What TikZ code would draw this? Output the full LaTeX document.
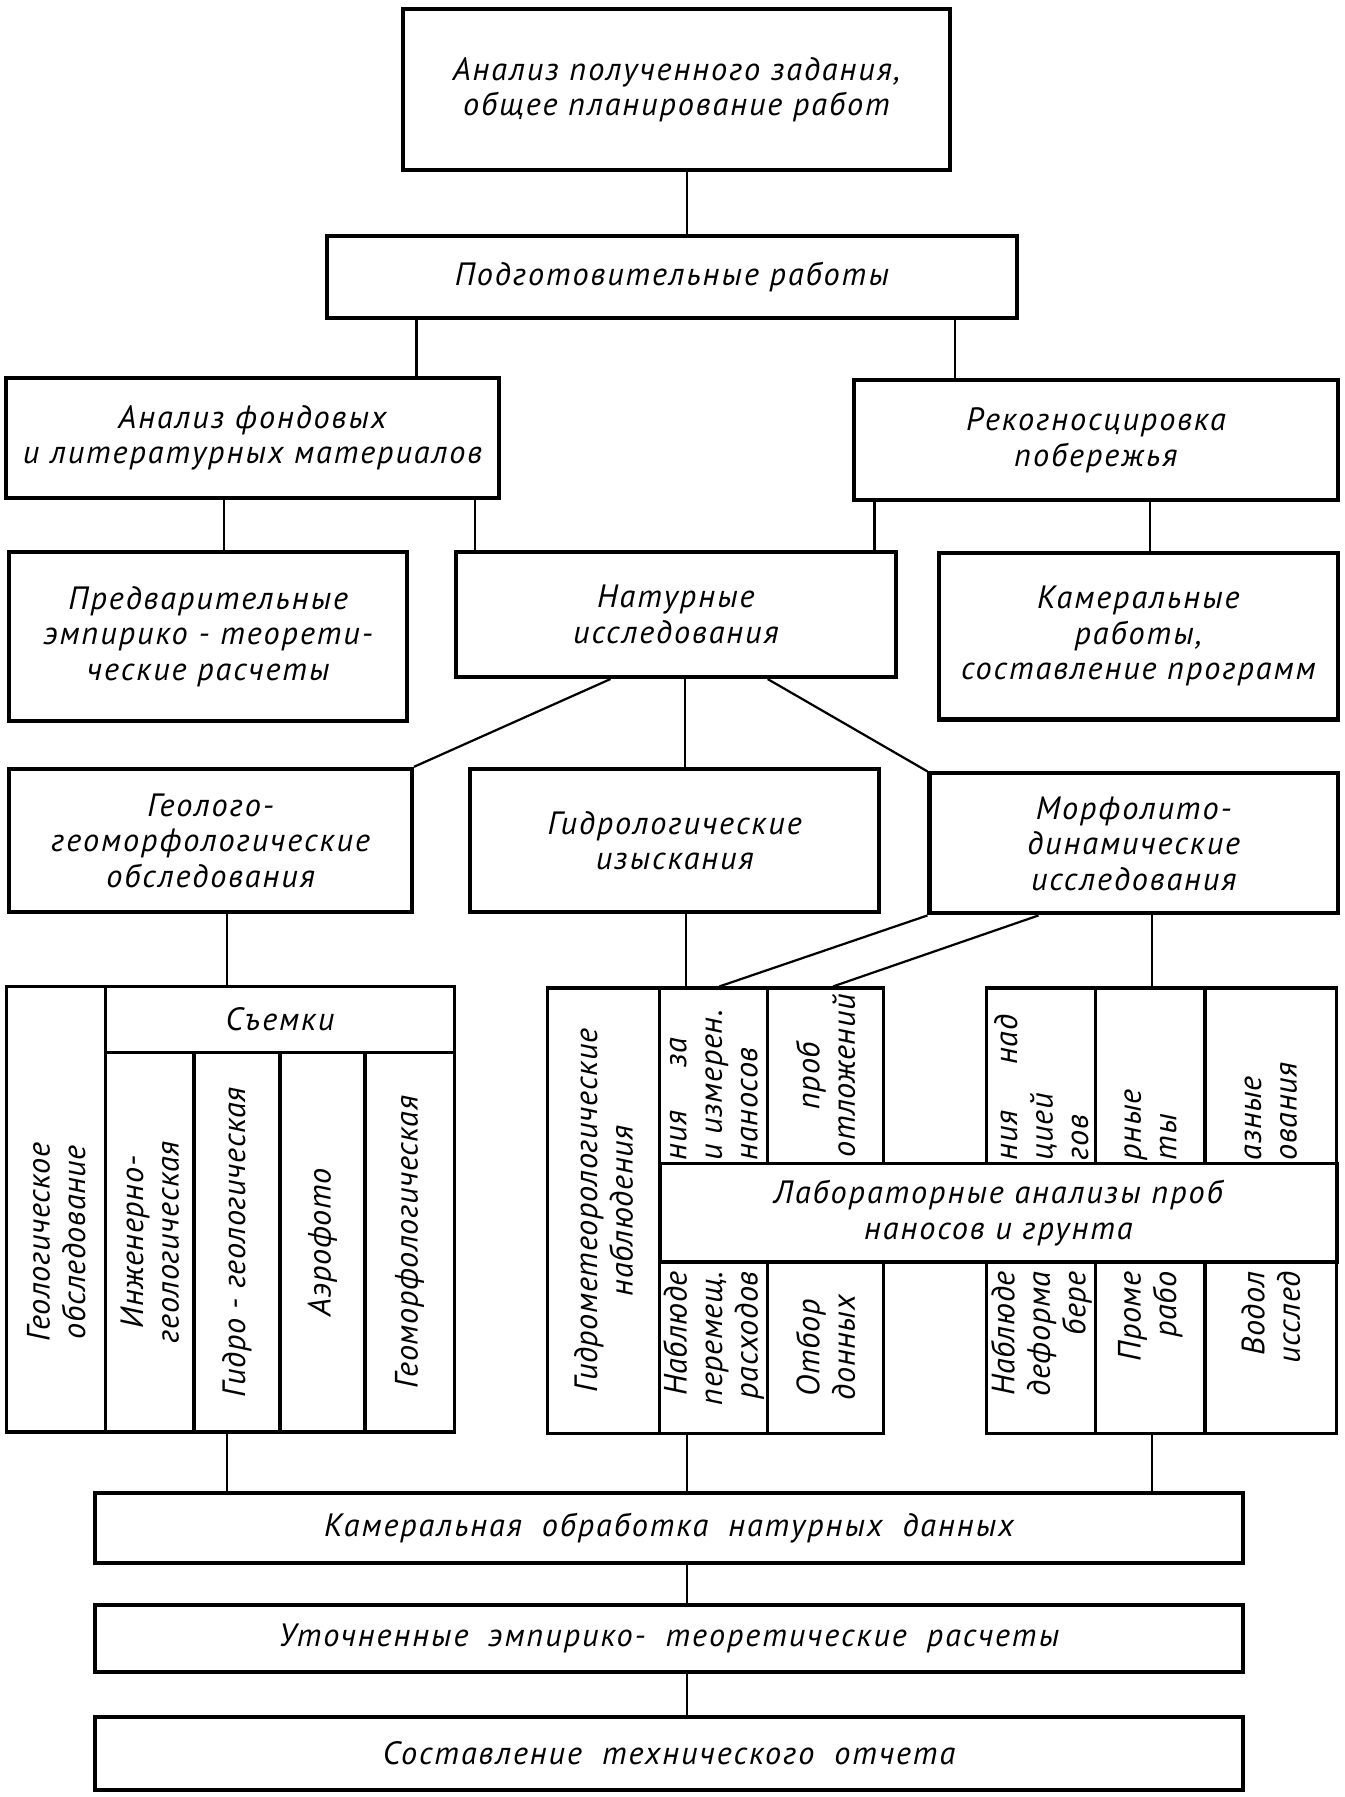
\documentclass[tikz,border=0pt]{standalone}
\usepackage{fontspec}
\setmainfont{PT Sans}[LetterSpace=6]
\usetikzlibrary{calc}
\newcommand{\wsp}{\hspace{0.62em}}
\begin{document}
\begin{tikzpicture}[x=0.02cm, y=-0.02cm,
    every node/.style={inner sep=0pt},
    lbl/.style={font=\itshape\fontsize{16}{17.6}\selectfont, align=center},
    stage/.style 2 args={draw, line width=2pt, lbl, text width=#1*0.02cm, minimum height=#2*0.02cm},
    cellbox/.style 2 args={draw, line width=1.6pt, minimum width=#1*0.02cm, minimum height=#2*0.02cm},
    vlbl/.style={lbl, rotate=90, font=\itshape\fontsize{16}{17.6}\selectfont\addfontfeatures{LetterSpace=2}},
    link/.style={line width=1.1pt}]
\useasboundingbox (0,0) rectangle (1172,1566);

% upper stages
\node[stage={477}{140}] (task) at (589.5,78) {Анализ полученного задания,\\ общее планирование работ};
\node[stage={601}{71}] (prep) at (585.5,241.5) {Подготовительные работы};
\node[stage={430}{105}] (fond) at (220,381.5) {Анализ фондовых\\ и литературных материалов};
\node[stage={422}{105}] (recon) at (955,383.5) {Рекогносцировка\\ побережья};
\node[stage={347}{147}] (prelim) at (181.5,554.5) {Предварительные\\ эмпирико - теорети-\\ ческие расчеты};
\node[stage={384}{109}] (field) at (589,535.5) {Натурные\\ исследования};
\node[stage={348}{145}] (office) at (992,554.5) {Камеральные\\ работы,\\ составление программ};
\node[stage={351}{125}] (geol) at (183.5,732.5) {Геолого-\\ геоморфологические\\ обследования};
\node[stage={356}{125}] (hydro) at (588,732.5) {Гидрологические\\ изыскания};
\node[stage={356}{122}] (morph) at (988,735) {Морфолито-\\ динамические\\ исследования};

% geological block
\node[cellbox={86}{388}] (geo) at (49,1054) {};
\node[stage={304}{57}, line width=1.6pt] (shot) at (244,888.5) {Съемки};
\foreach \n/\cx/\w in {s1/130.5/77, s2/206.5/75, s3/281/74, s4/357/78}
    \node[cellbox={\w}{331}] (\n) at (\cx,1082.5) {};
\node[vlbl] at (geo |- s1) {Геологическое\\ обследование};
\node[vlbl] at (s1) {Инженерно-\\ геологическая};
\node[vlbl] at (s2) {Гидро - геологическая};
\node[vlbl] at (s3) {Аэрофото};
\node[vlbl] at (s4) {Геоморфологическая};

% hydrological and morpholithodynamic blocks
\node[cellbox={98}{388}] (hm) at (526,1055) {};
\node[vlbl] at (hm) {Гидрометеорологические\\ наблюдения};
\foreach \n/\cx/\w in {m2/622/94, m3/719.5/101, ra/907.5/95, rb/1002.5/95, rc/1107.5/115} {
    \node[cellbox={\w}{153}] (up\n) at (\cx,937.5) {};
    \node[cellbox={\w}{149}] (lo\n) at (\cx,1174.5) {};
}
\node[stage={590}{86}, line width=1.8pt] (lab) at (870,1057) {Лабораторные анализы проб\\ наносов и грунта};
\node[vlbl, anchor=west, align=left] at ($(upm2.south)+(0,-4)$) {ния\hspace{0.75cm}за\\ и измерен.\\ наносов};
\node[vlbl, anchor=east, align=right] at ($(lom2.north)+(0,9)$) {Наблюде\\ перемещ.\\ расходов};
\node[vlbl] at (upm3) {проб\\ отложений};
\node[vlbl] at (lom3) {Отбор\\ донных};
\node[vlbl, anchor=west, align=left] at ($(upra.south)+(0,-4)$) {ния\hspace{0.8cm}над\\ цией\\ гов};
\node[vlbl, anchor=east, align=right] at ($(lora.north)+(0,9)$) {Наблюде\\ деформа\\ бере};
\node[vlbl, anchor=west, align=left] at ($(uprb.south)+(0,-4)$) {рные\\ ты};
\node[vlbl, anchor=east, align=right] at ($(lorb.north)+(0,9)$) {Проме\\ рабо};
\node[vlbl, anchor=west, align=left] at ($(uprc.south)+(0,-4)$) {азные\\ ования};
\node[vlbl, anchor=east, align=right] at ($(lorc.north)+(0,9)$) {Водол\\ исслед};

% final stages
\node[stage={1000}{61}] (kam) at (583,1331.5) {Камеральная\wsp обработка\wsp натурных\wsp данных};
\node[stage={1000}{58}] (refined) at (583,1428) {Уточненные\wsp эмпирико-\wsp теоретические\wsp расчеты};
\node[stage={1000}{64}] (report) at (583,1528) {Составление\wsp технического\wsp отчета};

% connectors
\foreach \a/\b/\x in {task/prep/599, prep/fond/363, prep/recon/832, fond/prelim/195,
        fond/field/414, recon/field/762, recon/office/1002, field/hydro/597,
        geol/shot/198, hydro/upm2/598, morph/uprb/1004, s2/kam/198, lom2/kam/599,
        lorb/kam/1004, kam/refined/599, refined/report/599}
    \draw[link] (\a.south -| \x,0) -- (\b.north -| \x,0);
\draw[link] (field.south -| 532,0) -- (geol.north east);
\draw[link] (field.south -| 669,0) -- (morph.north west);
\draw[link] (morph.south west) -- (upm2.north -| 627,0);
\draw[link] (morph.south -| 905,0) -- (upm3.north -| 726,0);
\end{tikzpicture}
\end{document}
